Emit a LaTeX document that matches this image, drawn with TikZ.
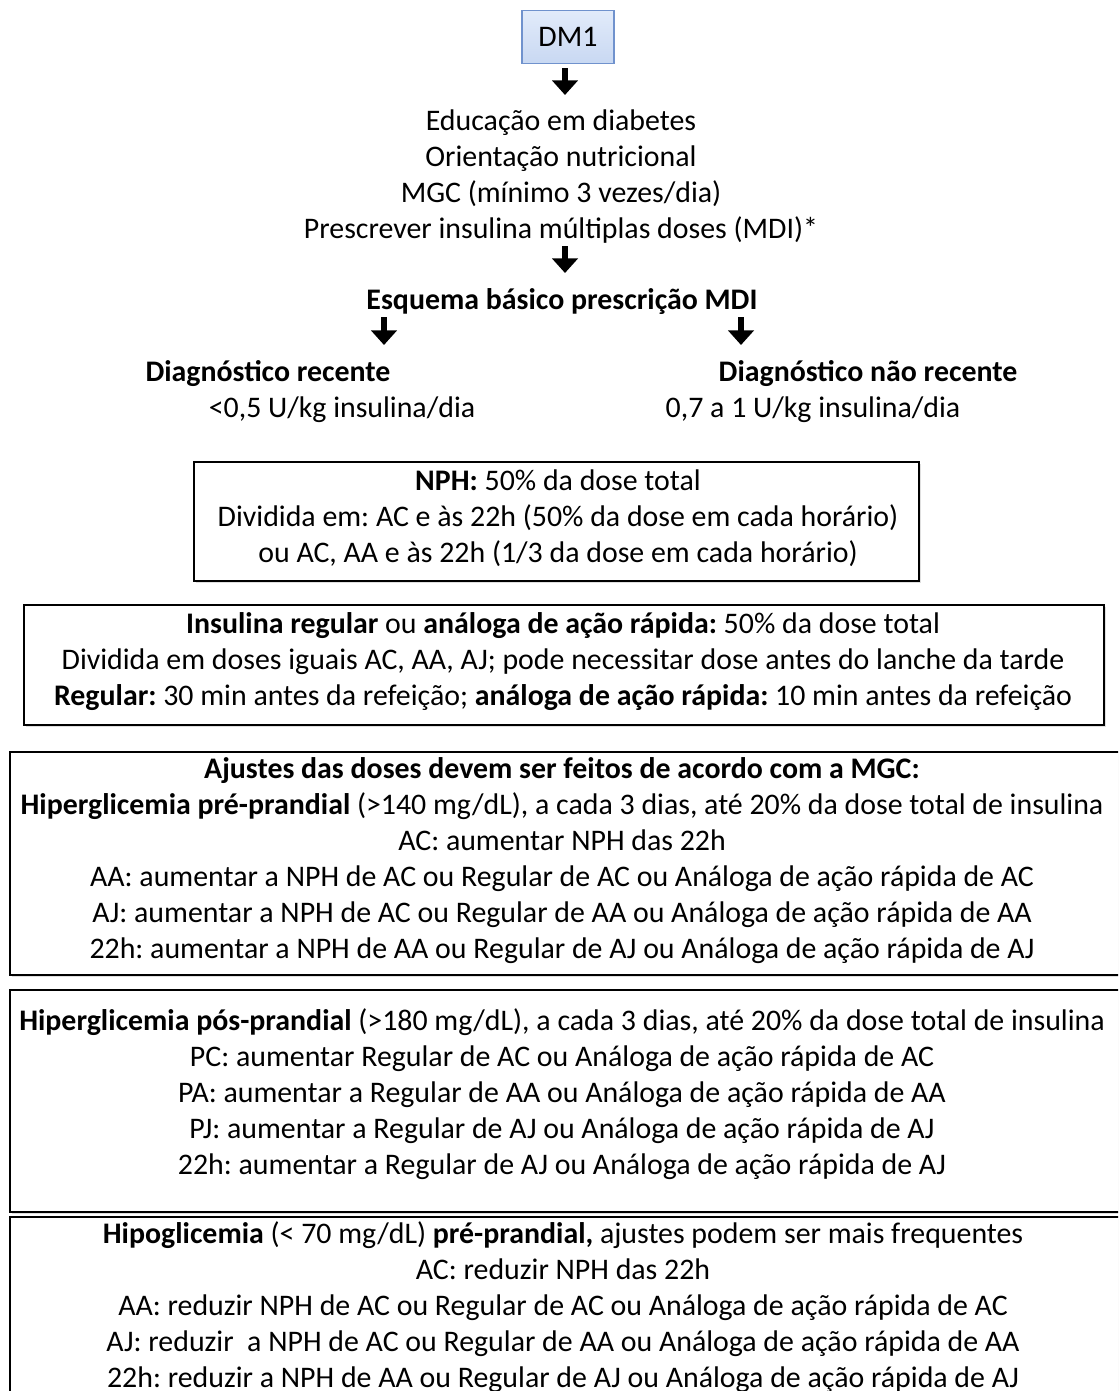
\documentclass[tikz,border=0pt]{standalone}
\usepackage{fontspec}
\setmainfont{Carlito}
\frenchspacing
\usetikzlibrary{arrows.meta,positioning,shadows}
\tikzstyle{plain text} = [align=center, inner sep=0pt, font=\fontsize{22.4}{27}\selectfont]
\tikzstyle{bold text}  = [plain text, font=\fontsize{22.4}{27}\selectfont\bfseries]
\tikzstyle{line box}   = [draw=black, line width=1.1pt, fill=white,
                          drop shadow={opacity=0.25, shadow xshift=1.2pt, shadow yshift=-1.2pt}]
\tikzstyle{down arrow} = [line width=4.2pt, -{Triangle[width=19pt,length=11pt]}]
\definecolor{dmfill}{RGB}{200,216,242}
\definecolor{dmtop}{RGB}{226,235,250}
\definecolor{dmline}{RGB}{112,146,205}

\begin{document}
\begin{tikzpicture}[x=0.75pt, y=-0.75pt]
\useasboundingbox (0,0) rectangle (1118,1391);
\clip (0,0) rectangle (1118,1391);

    \node(dm1)[plain text, draw=dmline, line width=1pt, top color=dmtop, bottom color=dmfill,
               minimum width=69pt, minimum height=39.75pt] at (568,37) {DM1};

    % Initial care
    \node(edu)[plain text] at (561,177)
        {Educação em diabetes\\
         Orientação nutricional\\
         MGC (mínimo 3 vezes/dia)\\
         Prescrever insulina múltiplas doses (MDI)*};

    \node(esq)[bold text] at (562,302) {Esquema básico prescrição MDI};

    % Two branches
    \node(rec)[bold text] at (268,374) {Diagnóstico recente};
    \node(recdose)[plain text] at (342,410) {<0,5 U/kg insulina/dia};
    \node(nrec)[bold text] at (868,374) {Diagnóstico não recente};
    \node(nrecdose)[plain text] at (813,410) {0,7 a 1 U/kg insulina/dia};

    \coordinate (t1) at (565,95);
    \coordinate (t2) at (565,273);
    \coordinate (t3) at (384,345);
    \coordinate (t4) at (741,345);
    \draw[down arrow, shorten <=3pt] (dm1.south -| t1) -- (t1);
    \draw[down arrow] (edu.south -| t2) ++(0,2) -- (t2);
    \draw[down arrow] (esq.south -| t3) ++(0,2) -- (t3);
    \draw[down arrow] (esq.south -| t4) ++(0,2) -- (t4);

    % NPH
    \node(nph)[line box, minimum width=543.75pt, minimum height=89.25pt] at (556.5,521.5) {};
    \node(nphtext)[plain text] at (558,518)
        {\textbf{NPH:} 50\% da dose total\\
         Dividida em: AC e às 22h (50\% da dose em cada horário)\\
         ou AC, AA e às 22h (1/3 da dose em cada horário)};

    % Regular / rapid analog
    \node(reg)[line box, minimum width=810pt, minimum height=90pt] at (564,665) {};
    \node(regtext)[plain text] at (563,662)
        {\textbf{Insulina regular} ou \textbf{análoga de ação rápida:} 50\% da dose total\\
         Dividida em doses iguais AC, AA, AJ; pode necessitar dose antes do lanche da tarde\\
         \textbf{Regular:} 30 min antes da refeição; \textbf{análoga de ação rápida:} 10 min antes da refeição};

    % Adjustments
    \node(ajuste)[line box, minimum width=840pt, minimum height=167.25pt] at (570,863.5) {};
    \node(ajustetext)[plain text] at (562,861)
        {\textbf{Ajustes das doses devem ser feitos de acordo com a MGC:}\\
         \textbf{Hiperglicemia pré-prandial} (>140 mg/dL), a cada 3 dias, até 20\% da dose total de insulina\\
         AC: aumentar NPH das 22h\\
         AA: aumentar a NPH de AC ou Regular de AC ou Análoga de ação rápida de AC\\
         AJ: aumentar a NPH de AC ou Regular de AA ou Análoga de ação rápida de AA\\
         22h: aumentar a NPH de AA ou Regular de AJ ou Análoga de ação rápida de AJ};

    \node(pos)[line box, minimum width=840pt, minimum height=166.5pt] at (570,1101) {};
    \node(postext)[plain text] at (562,1094)
        {\textbf{Hiperglicemia pós-prandial} (>180 mg/dL), a cada 3 dias, até 20\% da dose total de insulina\\
         PC: aumentar Regular de AC ou Análoga de ação rápida de AC\\
         PA: aumentar a Regular de AA ou Análoga de ação rápida de AA\\
         PJ: aumentar a Regular de AJ ou Análoga de ação rápida de AJ\\
         22h: aumentar a Regular de AJ ou Análoga de ação rápida de AJ};

    \node(hipo)[line box, minimum width=840pt, minimum height=150pt] at (570,1317) {};
    \node(hipotext)[plain text] at (563,1307)
        {\textbf{Hipoglicemia} (< 70 mg/dL) \textbf{pré-prandial,} ajustes podem ser mais frequentes\\
         AC: reduzir NPH das 22h\\
         AA: reduzir NPH de AC ou Regular de AC ou Análoga de ação rápida de AC\\
         AJ: reduzir \ a NPH de AC ou Regular de AA ou Análoga de ação rápida de AA\\
         22h: reduzir a NPH de AA ou Regular de AJ ou Análoga de ação rápida de AJ};

\end{tikzpicture}
\end{document}
